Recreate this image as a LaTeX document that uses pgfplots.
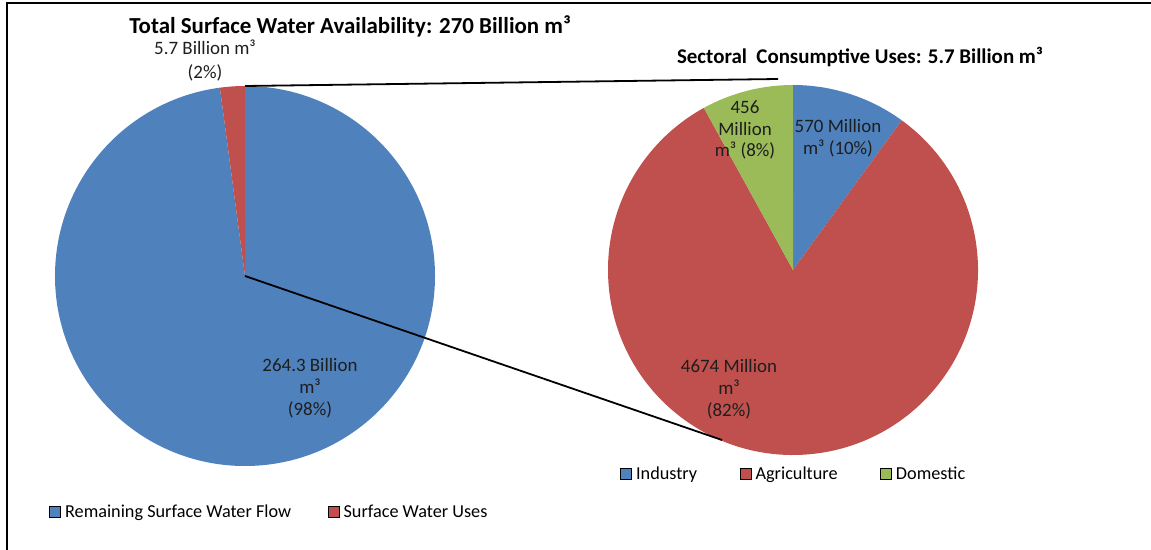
\documentclass[border=0pt]{standalone}
\usepackage{fontspec}
\setmainfont{Carlito}
\usepackage{pgfplots}
\usepackage{pgfplotstable}
\pgfplotsset{compat=1.18}
\definecolor{cblue}{HTML}{4F81BD}
\definecolor{cred}{HTML}{C0504D}
\definecolor{cgreen}{HTML}{9BBB59}
\definecolor{ctext}{HTML}{1E1E1E}

\pgfplotstableread{
label value
Remaining 264.3
Uses 5.7
}\totaltable
\pgfplotstableread{
label value
Industry 570
Agriculture 4674
Domestic 456
}\sectortable

\pgfplotsset{pieframe/.style={
  width=1151bp,height=550bp,scale only axis,
  xmin=0,xmax=1151,ymin=0,ymax=550,hide axis,clip=false,
  at={(0,0)},anchor=south west,
  legend style={draw=none,fill=none,font=\fontsize{18.3}{20}\selectfont,
    legend cell align=left,inner sep=0pt,
    nodes={inner sep=2.5bp},
    /tikz/every odd column/.append style={column sep=2bp}},
  legend image code/.code={\fill[##1] (0bp,-5.5bp) rectangle (11bp,5.5bp);}
}}

\begin{document}
\begin{tikzpicture}
\useasboundingbox (0,0) rectangle (1151bp,550bp);
% values
\pgfplotstablegetelem{0}{value}\of\totaltable \let\va\pgfplotsretval
\pgfplotstablegetelem{1}{value}\of\totaltable \let\vb\pgfplotsretval
\pgfmathsetmacro\tot{\va+\vb}
\pgfmathsetmacro\da{-360*(\va/\tot)}
\pgfmathsetmacro\db{-360*(\vb/\tot)}
\pgfmathsetmacro\sb{90+\da}
\pgfplotstablegetelem{0}{value}\of\sectortable \let\wa\pgfplotsretval
\pgfplotstablegetelem{1}{value}\of\sectortable \let\wb\pgfplotsretval
\pgfplotstablegetelem{2}{value}\of\sectortable \let\wc\pgfplotsretval
\pgfmathsetmacro\stot{\wa+\wb+\wc}
\pgfmathsetmacro\ea{-360*(\wa/\stot)}
\pgfmathsetmacro\eb{-360*(\wb/\stot)}
\pgfmathsetmacro\ec{-360*(\wc/\stot)}
\pgfmathsetmacro\tb{90+\ea}
\pgfmathsetmacro\tc{90+\ea+\eb}

% frame
\draw[line width=1.8bp] (7bp,0) -- (7bp,547bp) -- (1151bp,547bp);

\begin{axis}[pieframe,
  legend columns=2,
  legend style={at={(axis cs:49,38)},anchor=west,
    /tikz/every even column/.append style={column sep=34bp}}]
\addlegendimage{fill=cblue}\addlegendentry{Remaining Surface Water Flow}
\addlegendimage{fill=cred}\addlegendentry{Surface Water Uses}
% left pie
\fill[cblue] (axis cs:245,274) -- ++(90:190bp) arc[start angle=90,delta angle=\da,radius=190bp] -- cycle;
\fill[cred] (axis cs:245,274) -- ++(\sb:190bp) arc[start angle=\sb,delta angle=\db,radius=190bp] -- cycle;
% right pie
\fill[cblue] (axis cs:793,280) -- ++(90:185bp) arc[start angle=90,delta angle=\ea,radius=185bp] -- cycle;
\fill[cred] (axis cs:793,280) -- ++(\tb:185bp) arc[start angle=\tb,delta angle=\eb,radius=185bp] -- cycle;
\fill[cgreen] (axis cs:793,280) -- ++(\tc:185bp) arc[start angle=\tc,delta angle=\ec,radius=185bp] -- cycle;
% connectors
\draw[line width=1.8bp] (axis cs:245,464) -- (axis cs:778,471);
\draw[line width=1.8bp] (axis cs:245,274) -- (axis cs:722,110);
% titles
\node[font=\fontsize{23}{25}\selectfont\bfseries,inner sep=0pt] at (axis cs:350,524) {Total Surface Water Availability: 270 Billion m³};
\node[font=\fontsize{21}{23}\selectfont\bfseries,inner sep=0pt] at (axis cs:860,493) {Sectoral\ \ Consumptive Uses: 5.7 Billion m³};
% labels
\begin{scope}[every node/.style={font=\fontsize{19}{22}\selectfont,text=ctext,align=center,inner sep=0.5pt}]
\node at (axis cs:205,503) {5.7 Billion m³};
\node at (axis cs:205,477) {(2\%)};
\node at (axis cs:310,162) {264.3 Billion\\m³\\(98\%)};
\node at (axis cs:745,420) {456\\Million\\m³ (8\%)};
\node at (axis cs:838,412) {570 Million\\m³ (10\%)};
\node at (axis cs:729,161) {4674 Million\\m³\\(82\%)};
\end{scope}
\end{axis}

\begin{axis}[pieframe,
  legend columns=3,
  legend style={at={(axis cs:620,76)},anchor=west,
    /tikz/every even column/.append style={column sep=40bp}}]
\addlegendimage{fill=cblue}\addlegendentry{Industry}
\addlegendimage{fill=cred}\addlegendentry{Agriculture}
\addlegendimage{fill=cgreen}\addlegendentry{Domestic}
\end{axis}
\end{tikzpicture}
\end{document}
